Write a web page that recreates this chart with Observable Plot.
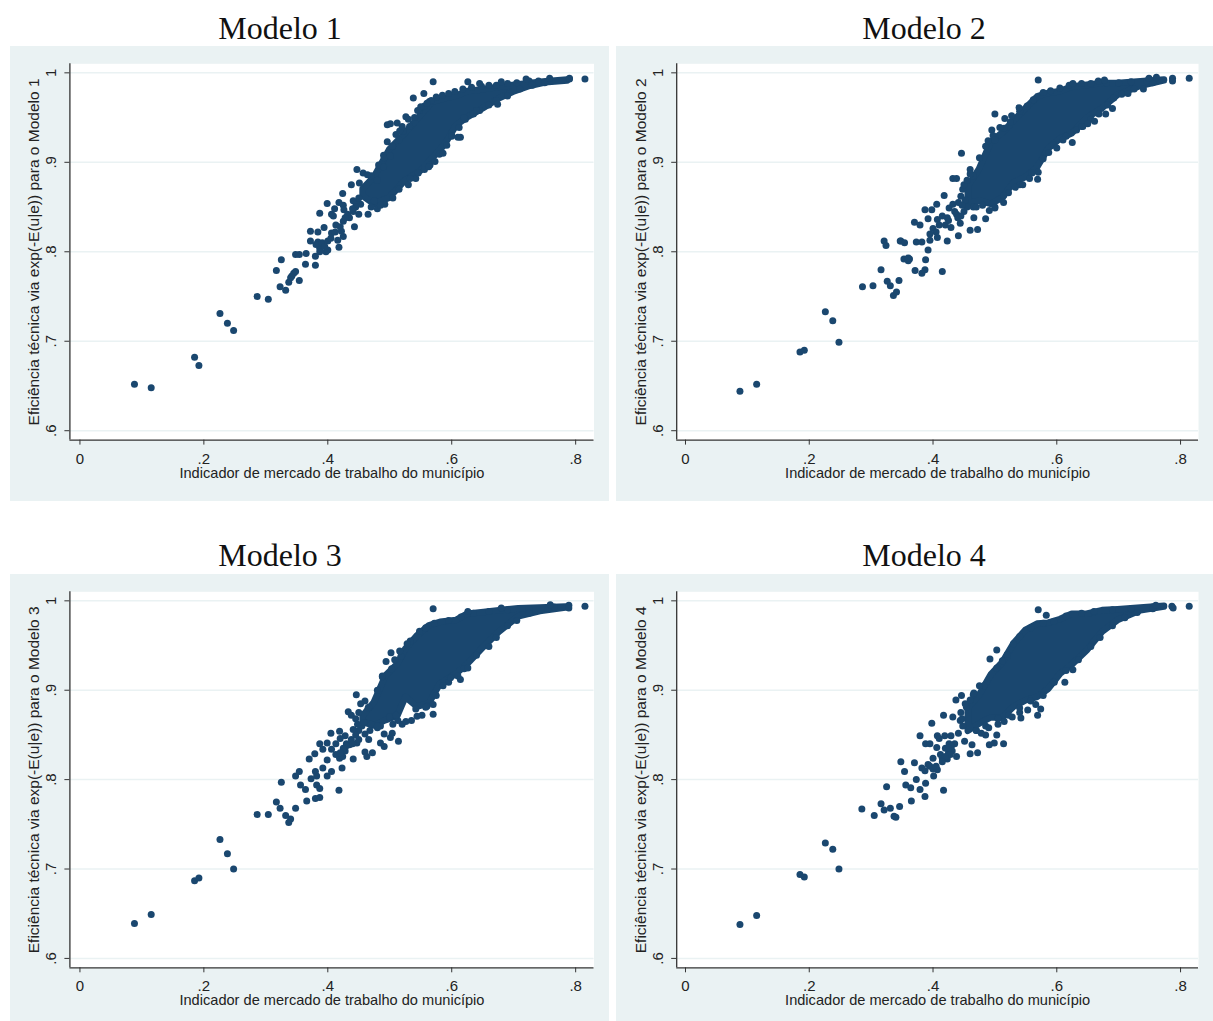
<!DOCTYPE html>
<html><head><meta charset="utf-8">
<script src="https://cdn.jsdelivr.net/npm/d3@7"></script>
<script src="https://cdn.jsdelivr.net/npm/@observablehq/plot@0.6"></script>
<style>
html,body{margin:0;padding:0;background:#fff;overflow:hidden}
#root{position:relative;width:1213px;height:1021px;overflow:hidden}
.t{position:absolute;font:32px "Liberation Serif",serif;color:#111;transform:translateX(-50%);white-space:nowrap;line-height:36px}
.p{position:absolute}
.p svg{display:block;overflow:visible}
</style></head><body><div id="root"></div>
<script>
const xTicks=[0,.2,.4,.6,.8], yTicks=[.6,.7,.8,.9,1];
const xTitle="Indicador de mercado de trabalho do município";
const titles=["Modelo 1","Modelo 2","Modelo 3","Modelo 4"];

const m1Points=[[.088,.652],[.115,.648],[.185,.682],[.192,.673],[.226,.731],[.238,.720],[.248,.712],[.286,.750],[.304,.747],[.317,.779],[.323,.761],[.332,.757],[.337,.766],[.340,.771],[.342,.773],[.345,.776],[.348,.778],[.354,.768],[.364,.786],[.380,.785],[.325,.791],[.348,.797],[.354,.797],[.365,.798],[.380,.795],[.384,.811],[.372,.812],[.372,.823],[.384,.822],[.387,.804],[.397,.800],[.400,.802],[.387,.800],[.381,.808],[.391,.810],[.400,.812],[.418,.805],[.416,.813],[.425,.817],[.422,.823],[.425,.834],[.413,.830],[.406,.821],[.394,.827],[.409,.840],[.406,.842],[.387,.843],[.399,.854],[.411,.848],[.418,.855],[.425,.852],[.426,.847],[.441,.857],[.438,.875],[.424,.865],[.447,.892],[.451,.877],[.457,.888],[.464,.886],[.443,.828],[.435,.838],[.450,.842],[.441,.845],[.465,.842],[.453,.853],[.485,.852],[.475,.857],[.570,.990],[.555,.977],[.538,.972],[.567,.969],[.550,.962],[.526,.951],[.512,.944],[.501,.943],[.496,.942],[.510,.931],[.516,.935],[.496,.923],[.504,.918],[.491,.905],[.501,.907],[.614,.928],[.610,.928],[.586,.910],[.573,.901],[.626,.990],[.645,.988],[.680,.990],[.720,.993],[.758,.994],[.790,.993],[.815,.993],[.790,.994],[.533,.882],[.546,.888],[.563,.895],[.674,.965],[.520,.940],[.530,.948],[.545,.958],[.560,.966],[.480,.880],[.490,.895],[.600,.930],[.620,.950],[.640,.958],[.445,.855],[.450,.860],[.445,.850],[.440,.848],[.432,.842],[.428,.838],[.420,.828],[.412,.822],[.405,.815],[.395,.806]];
const m1Edge=[[.470,.885],[.482,.897],[.490,.908],[.505,.918],[.515,.925],[.522,.935],[.532,.940],[.540,.950],[.548,.958],[.556,.963],[.564,.968],[.575,.973],[.585,.975],[.595,.977],[.605,.979],[.618,.982],[.632,.984],[.648,.985],[.660,.986],[.672,.986],[.690,.988],[.705,.989],[.725,.991],[.740,.991],[.470,.850],[.480,.848],[.492,.853],[.505,.860],[.515,.870],[.530,.875],[.542,.882],[.556,.892],[.565,.897],[.580,.909],[.592,.919],[.600,.929],[.612,.939],[.622,.948],[.635,.954],[.645,.958],[.660,.964],[.672,.969],[.690,.974],[.710,.982],[.730,.986],[.750,.989]];
const m1CoreX=[.457,.475,.500,.525,.550,.569,.589,.608,.626,.651,.677,.702,.727,.752,.787];
const m1CoreHigh=[.870,.883,.914,.932,.952,.967,.971,.974,.979,.981,.984,.986,.988,.990,.992];
const m1CoreLow=[.862,.853,.860,.879,.890,.904,.919,.941,.950,.960,.971,.979,.985,.989,.991];

const m2Points=[[.088,.644],[.115,.652],[.185,.688],[.192,.690],[.226,.733],[.238,.723],[.248,.699],[.286,.761],[.303,.762],[.316,.780],[.326,.767],[.331,.762],[.336,.751],[.341,.755],[.345,.768],[.353,.792],[.362,.792],[.321,.812],[.347,.812],[.360,.790],[.371,.779],[.387,.780],[.415,.778],[.382,.776],[.324,.807],[.348,.812],[.354,.810],[.373,.811],[.382,.811],[.395,.813],[.392,.802],[.407,.816],[.423,.812],[.441,.818],[.460,.824],[.472,.825],[.370,.833],[.379,.830],[.392,.837],[.400,.826],[.407,.836],[.387,.847],[.398,.847],[.406,.853],[.418,.863],[.426,.849],[.423,.838],[.432,.853],[.441,.855],[.444,.832],[.466,.838],[.485,.837],[.420,.830],[.429,.827],[.438,.842],[.446,.910],[.432,.882],[.438,.882],[.460,.892],[.460,.887],[.360,.793],[.388,.791],[.570,.992],[.500,.954],[.516,.949],[.527,.952],[.539,.961],[.495,.936],[.508,.939],[.489,.924],[.497,.930],[.569,.881],[.533,.872],[.514,.855],[.514,.863],[.625,.922],[.600,.916],[.587,.911],[.650,.943],[.661,.946],[.679,.954],[.715,.977],[.740,.982],[.626,.988],[.667,.991],[.677,.992],[.749,.994],[.761,.995],[.787,.994],[.787,.991],[.814,.994],[.500,.849],[.491,.846],[.545,.875],[.560,.888],[.610,.925],[.640,.940],[.690,.960],[.500,.925],[.450,.845],[.455,.850],[.445,.840],[.440,.838],[.435,.845],[.425,.835],[.415,.840],[.410,.830],[.405,.822],[.395,.820],[.470,.850],[.445,.862],[.448,.870],[.450,.875],[.452,.858],[.447,.852],[.455,.880]];
const m2Edge=[[.465,.885],[.475,.905],[.485,.918],[.500,.928],[.515,.938],[.525,.945],[.540,.957],[.552,.963],[.562,.970],[.578,.978],[.590,.980],[.605,.983],[.620,.986],[.640,.988],[.655,.988],[.680,.989],[.700,.989],[.720,.990],[.745,.991],[.465,.850],[.480,.852],[.500,.850],[.522,.866],[.540,.875],[.556,.882],[.570,.889],[.578,.904],[.595,.919],[.615,.929],[.632,.936],[.642,.940],[.655,.948],[.668,.954],[.682,.964],[.692,.972],[.705,.976],[.725,.982],[.755,.989]];
const m2CoreX=[.457,.475,.494,.513,.531,.550,.569,.587,.606,.625,.649,.674,.699,.736,.774];
const m2CoreHigh=[.873,.892,.922,.933,.946,.960,.973,.977,.979,.984,.986,.988,.988,.990,.992];
const m2CoreLow=[.853,.857,.853,.860,.877,.883,.894,.915,.926,.932,.949,.960,.975,.985,.991];

const m3Points=[[.088,.639],[.115,.649],[.185,.687],[.192,.690],[.226,.733],[.238,.717],[.248,.700],[.286,.761],[.304,.761],[.317,.775],[.323,.768],[.332,.760],[.340,.756],[.337,.752],[.348,.768],[.366,.776],[.380,.779],[.387,.780],[.418,.788],[.325,.797],[.356,.794],[.364,.789],[.348,.804],[.354,.809],[.373,.801],[.382,.794],[.387,.790],[.380,.809],[.382,.804],[.392,.813],[.399,.804],[.406,.809],[.423,.813],[.399,.822],[.370,.823],[.379,.829],[.387,.840],[.399,.841],[.392,.834],[.405,.852],[.406,.834],[.413,.840],[.419,.854],[.428,.849],[.441,.856],[.419,.824],[.441,.823],[.428,.832],[.435,.839],[.447,.841],[.460,.831],[.463,.826],[.472,.830],[.485,.841],[.491,.837],[.501,.847],[.514,.843],[.433,.876],[.438,.872],[.446,.895],[.453,.885],[.460,.888],[.466,.881],[.460,.851],[.466,.845],[.491,.851],[.504,.852],[.570,.991],[.528,.952],[.516,.944],[.502,.942],[.508,.934],[.494,.932],[.488,.916],[.614,.912],[.626,.925],[.570,.873],[.570,.884],[.586,.905],[.598,.914],[.626,.988],[.815,.994],[.789,.995],[.789,.992],[.759,.9955],[.680,.992],[.513,.866],[.526,.865],[.544,.871],[.558,.881],[.542,.879],[.500,.870],[.510,.872],[.480,.858],[.470,.862],[.455,.860],[.480,.860],[.420,.846],[.413,.828],[.424,.826],[.430,.840],[.438,.845],[.450,.855],[.458,.864],[.445,.850],[.450,.845],[.440,.840],[.430,.838],[.425,.835],[.420,.830],[.445,.868],[.450,.875],[.448,.862]];
const m3Edge=[[.465,.880],[.480,.900],[.488,.915],[.503,.924],[.518,.938],[.533,.955],[.548,.966],[.558,.970],[.572,.975],[.595,.978],[.615,.982],[.635,.986],[.660,.988],[.690,.990],[.725,.991],[.765,.993],[.468,.855],[.485,.860],[.505,.862],[.520,.862],[.535,.866],[.552,.872],[.560,.882],[.575,.894],[.595,.909],[.610,.916],[.620,.924],[.640,.939],[.660,.949],[.672,.959],[.690,.972],[.705,.978],[.725,.986],[.755,.991]];
const m3CoreX=[.457,.475,.494,.513,.526,.545,.564,.582,.608,.626,.652,.677,.708,.743,.784];
const m3CoreHigh=[.871,.886,.916,.929,.946,.961,.972,.976,.978,.985,.987,.989,.991,.992,.993];
const m3CoreLow=[.864,.860,.866,.871,.892,.881,.885,.907,.918,.929,.948,.965,.982,.988,.992];

const m4Points=[[.088,.638],[.115,.648],[.185,.694],[.192,.691],[.226,.729],[.238,.722],[.248,.700],[.285,.767],[.305,.760],[.316,.773],[.321,.766],[.331,.768],[.337,.759],[.340,.758],[.346,.770],[.365,.776],[.387,.781],[.417,.788],[.325,.792],[.356,.794],[.364,.791],[.348,.820],[.370,.819],[.354,.809],[.373,.800],[.388,.796],[.379,.789],[.382,.813],[.392,.817],[.401,.804],[.407,.811],[.379,.849],[.388,.840],[.395,.840],[.398,.863],[.406,.836],[.400,.824],[.415,.824],[.423,.823],[.431,.832],[.438,.826],[.426,.840],[.435,.840],[.407,.849],[.419,.849],[.429,.849],[.441,.852],[.410,.846],[.451,.843],[.463,.839],[.460,.829],[.472,.830],[.491,.839],[.499,.841],[.514,.840],[.503,.850],[.485,.850],[.417,.872],[.432,.870],[.437,.889],[.446,.894],[.444,.866],[.466,.897],[.460,.889],[.454,.881],[.570,.990],[.583,.984],[.613,.909],[.626,.923],[.569,.872],[.574,.879],[.566,.884],[.542,.869],[.528,.870],[.515,.865],[.505,.862],[.814,.994],[.786,.994],[.788,.992],[.760,.995],[.395,.815],[.400,.812],[.387,.810],[.420,.835],[.425,.830],[.412,.828],[.470,.855],[.478,.852],[.490,.858],[.553,.878],[.540,.880],[.492,.935],[.503,.945],[.512,.933],[.520,.940],[.530,.952],[.475,.905],[.430,.838],[.425,.835],[.428,.828],[.420,.826],[.415,.820],[.405,.815],[.445,.875],[.448,.860],[.447,.868],[.452,.885]];
const m4Edge=[[.465,.895],[.482,.905],[.503,.925],[.520,.938],[.540,.960],[.558,.970],[.578,.975],[.595,.977],[.615,.983],[.640,.986],[.660,.988],[.690,.990],[.720,.991],[.755,.993],[.470,.855],[.485,.860],[.505,.868],[.522,.872],[.540,.875],[.558,.888],[.578,.894],[.596,.909],[.615,.922],[.635,.934],[.655,.949],[.670,.959],[.690,.972],[.710,.981],[.730,.987],[.755,.991]];
const m4CoreX=[.457,.475,.494,.513,.531,.550,.569,.587,.606,.625,.649,.674,.699,.736,.774];
const m4CoreHigh=[.880,.894,.917,.931,.952,.967,.974,.975,.979,.985,.985,.989,.990,.992,.994];
const m4CoreLow=[.854,.862,.869,.869,.881,.888,.892,.901,.918,.928,.944,.965,.978,.989,.993];

const pts=[m1Points,m2Points,m3Points,m4Points];
const edges=[m1Edge,m2Edge,m3Edge,m4Edge];
const coreX=[m1CoreX,m2CoreX,m3CoreX,m4CoreX];
const coreHi=[m1CoreHigh,m2CoreHigh,m3CoreHigh,m4CoreHigh];
const coreLo=[m1CoreLow,m2CoreLow,m3CoreLow,m4CoreLow];

const NAVY="#1a476f", BG="#eaf2f3", INK="#222", FONT='"Liberation Sans",Arial,sans-serif';
const fmt=d=>String(d).replace(/^0\./,".");
const L=[
 {left:10,top:46,w:599,h:455,ml:59.4,mr:15.5,mt:17.3,mb:61.4,xd:[-.0162,.8296]},
 {left:616,top:46,w:597,h:455,ml:60.2,mr:15,mt:17.3,mb:61.4,xd:[-.0142,.829]},
 {left:10,top:574,w:599,h:447,ml:59.4,mr:15.5,mt:17.3,mb:53.7,xd:[-.0162,.8296]},
 {left:616,top:574,w:597,h:447,ml:60.2,mr:15,mt:17.3,mb:53.7,xd:[-.0142,.829]}
];
const tx=[280,924,280,924], ty=[10,10,537,537];
const root=document.getElementById("root");
L.forEach((c,i)=>{
  const t=document.createElement("div");t.className="t";t.textContent=titles[i];
  t.style.left=tx[i]+"px";t.style.top=ty[i]+"px";root.appendChild(t);
  const idx=coreX[i].map((_,k)=>k);
  const fig=Plot.plot({
    width:c.w,height:c.h,marginLeft:c.ml,marginRight:c.mr,marginTop:c.mt,marginBottom:c.mb,
    style:{background:BG,fontFamily:FONT,fontSize:"14px",color:INK},
    x:{domain:c.xd,label:null},y:{domain:[.5895,1.0101],label:null},
    marks:[
      Plot.frame({fill:"white",stroke:null}),
      Plot.ruleY(yTicks,{stroke:BG,strokeWidth:1.5}),
      Plot.axisX(xTicks,{tickFormat:fmt,tickSize:5,tickPadding:8,stroke:"#333",fontSize:15,label:null,color:INK}),
      Plot.axisY(yTicks,{tickFormat:fmt,tickSize:5,tickPadding:9,tickRotate:-90,stroke:"#333",fontSize:15,label:null,textAnchor:"middle"}),
      Plot.ruleX([c.xd[0]],{stroke:"#333",strokeWidth:1.3}),
      Plot.ruleY([.5895],{stroke:"#333",strokeWidth:1.3}),
      Plot.areaY(idx,{x:k=>coreX[i][k],y1:k=>coreLo[i][k],y2:k=>coreHi[i][k],fill:NAVY,stroke:NAVY,strokeWidth:6.6,strokeLinejoin:"round"}),
      Plot.dot(edges[i],{x:d=>d[0],y:d=>d[1],r:3.5,fill:NAVY,stroke:null}),
      Plot.dot(pts[i],{x:d=>d[0],y:d=>d[1],r:3.5,fill:NAVY,stroke:null}),
      Plot.text(["Eficiência técnica via exp(-E(u|e)) para o Modelo "+(i+1)],{frameAnchor:"left",textAnchor:"middle",rotate:-90,dx:-35.4,fontSize:15.5,fill:INK}),
      Plot.text([xTitle],{frameAnchor:"bottom",dy:37.5,fontSize:14.6,fill:INK})
    ]
  });
  const d=document.createElement("div");d.className="p";
  d.style.left=c.left+"px";d.style.top=c.top+"px";d.appendChild(fig);root.appendChild(d);
});
</script></body></html>
